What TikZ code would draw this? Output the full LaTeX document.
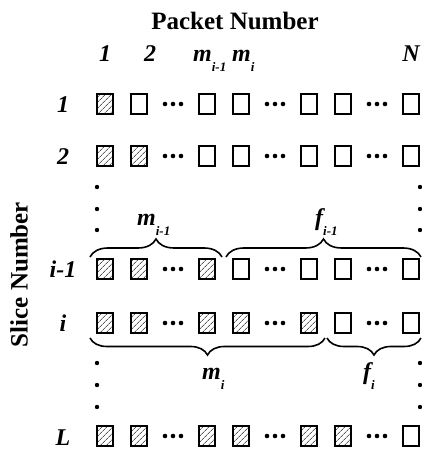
\documentclass[tikz,border=0pt]{standalone}
\usepackage{fontspec}
\setmainfont{Liberation Serif}
\usetikzlibrary{patterns.meta,decorations.pathreplacing}
\newcommand\sbs[1]{\raisebox{-10pt}{\fontsize{13}{13}\selectfont #1}}
\begin{document}
\begin{tikzpicture}[x=1pt,y=1pt,
  cellE/.style={draw,line width=1.8pt,minimum width=16pt,minimum height=20pt,inner sep=0pt},
  cellH/.style={cellE,pattern={Lines[angle=45,distance=4pt,line width=0.6pt]}},
  cellD/.style={minimum width=26pt,minimum height=20pt,inner sep=0pt,
    path picture={\foreach \dx in {-8,0,8}{\fill ([xshift=\dx pt]path picture bounding box.center) circle (2.3pt);}}},
  vdot/.style={fill,circle,inner sep=0pt,minimum size=4.4pt},
  lab/.style={font=\fontsize{24}{24}\selectfont\bfseries\itshape},
  ttl/.style={font=\fontsize{25}{25}\selectfont\bfseries},
  brc/.style={decorate,decoration={brace,amplitude=#1},line width=1.6pt},
  brc/.default=18pt
]
\useasboundingbox (0,0) rectangle (422,450);
% title and axis
\node[ttl] (title) at (235,429) {Packet Number};
\node[ttl,rotate=90] (slice) at (19,175.5) {Slice Number};
% column labels
\node[lab,anchor=base] (c1) at (105,388) {1};
\node[lab,anchor=base] (c2) at (150,388) {2};
\node[lab,anchor=base west,inner sep=0pt] (cm1) at (193,388) {m\sbs{i-1}};
\node[lab,anchor=base west,inner sep=0pt] (cm) at (232,388) {m\sbs{i}};
\node[lab,anchor=base] (cN) at (411,388) {N};
% rows
\foreach \r/\y/\lbl/\spec in {
   ra/346/1/{H,E,D,E,E,D,E,E,D,E},
   rb/294/2/{H,H,D,E,E,D,E,E,D,E},
   rc/181/i-1/{H,H,D,H,E,D,E,E,D,E},
   rd/127/i/{H,H,D,H,H,D,H,E,D,E},
   re/14/L/{H,H,D,H,H,D,H,H,D,E}}{
  \node[lab,anchor=base] (\r-lab) at (63,\y-9) {\lbl};
  \foreach \c [count=\k] in \spec {
    \node[cell\c] (\r-\k) at (105+34*\k-34,\y) {};
  }
}
% vertical dots
\foreach \yy [count=\n] in {263,241,220,87,65,43}{
  \node[vdot] (vl\n) at (97,\yy) {};
  \node[vdot] (vr\n) at (420,\yy) {};
}
% braces
\coordinate (b1s) at (90,193);  \coordinate (b1e) at (222,193);
\coordinate (b2s) at (226,193); \coordinate (b2e) at (421,193);
\coordinate (b3s) at (325,112); \coordinate (b3e) at (90,112);
\coordinate (b4s) at (421,112); \coordinate (b4e) at (327,112);
\draw[brc=18pt] (b1s) -- (b1e);
\draw[brc=18pt] (b2s) -- (b2e);
\draw[brc=17pt] (b3s) -- (b3e);
\draw[brc=17pt] (b4s) -- (b4e);
% brace labels
\node[lab,anchor=base west,inner sep=0pt] (lm1) at (137,224) {m\sbs{i-1}};
\node[lab,anchor=base west,inner sep=0pt] (lf1) at (315,224) {f\sbs{i-1}};
\node[lab,anchor=base west,inner sep=0pt] (lm) at (202,70) {m\sbs{i}};
\node[lab,anchor=base west,inner sep=0pt] (lf) at (363,70) {f\sbs{i}};
\end{tikzpicture}
\end{document}
